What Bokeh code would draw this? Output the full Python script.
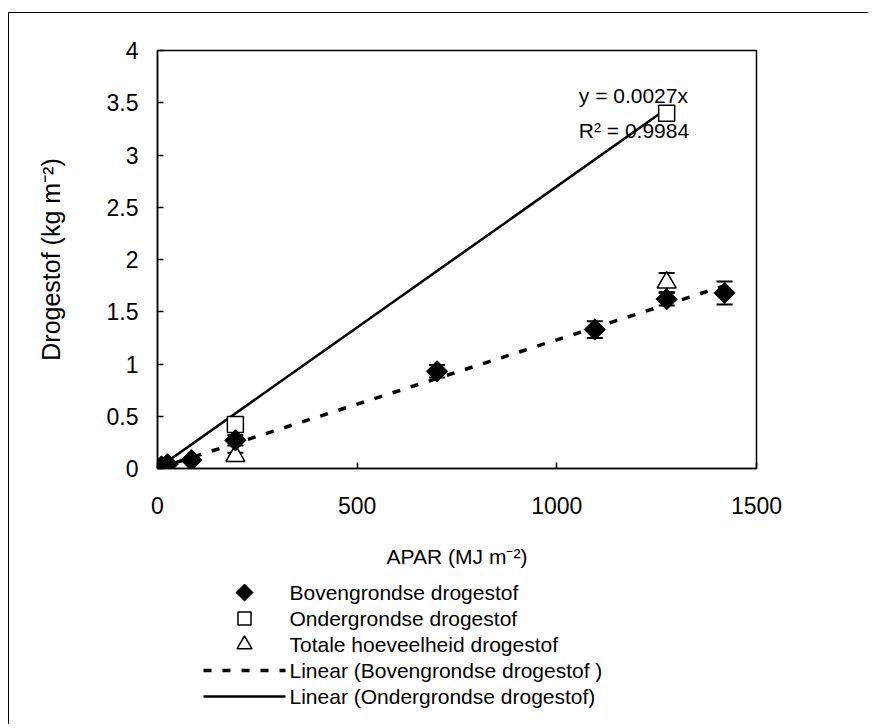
import numpy as np
from bokeh.plotting import figure
from bokeh.layouts import column
from bokeh.models import (ColumnDataSource, Whisker, TeeHead, Label,
                          FixedTicker, Range1d, FactorRange)
from bokeh.core.properties import value
from bokeh.embed import file_html
from bokeh.resources import INLINE

# ---- data ----
apar_boven = [0, 10, 25, 85, 195, 700, 1095, 1275, 1420]
ds_boven = [0.0, 0.02, 0.04, 0.08, 0.27, 0.93, 1.33, 1.62, 1.68]
err_boven = [0.0, 0.0, 0.0, 0.0, 0.05, 0.06, 0.08, 0.06, 0.11]

apar_onder = [0, 195, 1275]
ds_onder = [0.0, 0.42, 3.40]
err_onder = [0.0, 0.02, 0.03]

apar_totaal = [0, 195, 1275]
ds_totaal = [0.0, 0.12, 1.78]
err_totaal = [0.0, 0.03, 0.09]

slope_onder = 0.0027
r2_onder = 0.9984

x_ticks = [0, 500, 1000, 1500]
y_ticks = [0, 0.5, 1, 1.5, 2, 2.5, 3, 3.5, 4]
y_tick_labels = ["0", "0.5", "1", "1.5", "2", "2.5", "3", "3.5", "4"]

names = ["Bovengrondse drogestof", "Ondergrondse drogestof",
         "Totale hoeveelheid drogestof",
         "Linear (Bovengrondse drogestof )", "Linear (Ondergrondse drogestof)"]

FONT = "Liberation Sans"

# trend line for Bovengrondse: least squares through origin
xb = np.array(apar_boven, float)
yb = np.array(ds_boven, float)
slope_boven = float((xb * yb).sum() / (xb * xb).sum())
trend_b_x = [0, max(apar_boven)]
trend_b_y = [slope_boven * v for v in trend_b_x]
trend_o_x = [0, max(apar_onder)]
trend_o_y = [slope_onder * v for v in trend_o_x]

W, H1, H2 = 860, 565, 147
BL, BR = 148, 113
p = figure(width=W, height=H1, output_backend="svg", toolbar_location=None,
           x_range=Range1d(0, 1500), y_range=Range1d(0, 4),
           min_border_left=BL, min_border_right=BR,
           min_border_top=37, min_border_bottom=110)
p.grid.visible = False
p.outline_line_color = "black"
p.outline_line_width = 1.5
p.background_fill_color = "white"
p.border_fill_color = "white"
p.styles = {"border-top": "1px solid black", "border-left": "1px solid black",
            "margin-top": "12px", "margin-left": "8px"}

for ax in (p.xaxis[0], p.yaxis[0]):
    ax.axis_line_color = "black"
    ax.axis_line_width = 1.5
    ax.major_tick_in = 6
    ax.major_tick_out = 0
    ax.major_tick_line_width = 1.5
    ax.minor_tick_line_color = None
    ax.major_label_text_font = FONT
    ax.major_label_text_font_size = "23px"
    ax.major_label_text_color = "black"
    ax.axis_label_text_font = FONT
    ax.axis_label_text_font_style = "normal"
    ax.axis_label_text_color = "black"

p.xaxis.axis_label_text_font_size = "21px"
p.yaxis.axis_label_text_font_size = "25px"
p.xaxis.ticker = FixedTicker(ticks=x_ticks)
p.yaxis.ticker = FixedTicker(ticks=y_ticks)
p.yaxis.major_label_overrides = {t: l for t, l in zip(y_ticks, y_tick_labels)}
p.xaxis.axis_label = "APAR (MJ m\u207b\u00b2)"
p.yaxis.axis_label = "Drogestof (kg m\u207b\u00b2)"
p.xaxis.major_label_standoff = 28
p.xaxis.axis_label_standoff = 28
p.yaxis.major_label_standoff = 19
p.yaxis.axis_label_standoff = 39

def err_source(xs, ys, es):
    return ColumnDataSource(dict(x=xs, y=ys,
                                 lo=[a - e for a, e in zip(ys, es)],
                                 hi=[a + e for a, e in zip(ys, es)]))

src_b = err_source(apar_boven, ds_boven, err_boven)
src_o = err_source(apar_onder, ds_onder, err_onder)
src_t = err_source(apar_totaal, ds_totaal, err_totaal)

STY_T = dict(marker="triangle", fill_color="white",
             line_color="black", line_width=1.5)
STY_O = dict(marker="square", fill_color="white",
             line_color="black", line_width=1.5)
STY_B = dict(marker="square", angle=np.pi / 4,
             fill_color="black", line_color="black")
STY_LO = dict(line_color="black", line_width=2.5)
STY_LB = dict(line_color="black", line_width=3.5, line_dash="8 11")

p.line(trend_o_x, trend_o_y, **STY_LO)
p.line(trend_b_x, trend_b_y, **STY_LB)

for src in (src_b, src_o, src_t):
    w = Whisker(source=src, base="x", upper="hi", lower="lo",
                line_color="black", line_width=1.5,
                upper_head=TeeHead(size=16, line_color="black", line_width=2),
                lower_head=TeeHead(size=16, line_color="black", line_width=2))
    p.add_layout(w)

p.scatter("x", "y", source=src_t, size=19, **STY_T)
p.scatter("x", "y", source=src_o, size=16, **STY_O)
p.scatter("x", "y", source=src_b, size=15, **STY_B)

p.add_layout(Label(x=1055, y=3.57, text="y = %.4fx" % slope_onder,
                   text_font=FONT, text_font_size="21px",
                   text_baseline="middle", text_color="black"))
p.add_layout(Label(x=1055, y=3.23, text="R\u00b2 = %.4f" % r2_onder,
                   text_font=FONT, text_font_size="21px",
                   text_baseline="middle", text_color="black"))

# ---- legend panel underneath: one row per series name ----
q = figure(width=W, height=H2, output_backend="svg", toolbar_location=None,
           x_range=Range1d(0, W - BL - BR), y_range=FactorRange(*reversed(names)),
           x_axis_type=None, y_axis_type=None,
           min_border_left=BL, min_border_right=BR,
           min_border_top=2, min_border_bottom=15)
q.grid.visible = False
q.outline_line_color = None
q.background_fill_color = "white"
q.border_fill_color = "white"
q.styles = {"border-left": "1px solid black", "margin-left": "8px"}

GX0, GX1 = 46, 128          # legend glyph column (screen px inside the frame)
GXC = (GX0 + GX1) / 2
q.scatter(x=[GXC], y=[names[0]], size=12, **STY_B)
q.scatter(x=[GXC], y=[names[1]], size=13, **STY_O)
q.scatter(x=[GXC], y=[names[2]], size=15, **STY_T)
q.segment(x0=[GX0], x1=[GX1], y0=[names[3]], y1=[names[3]], **STY_LB)
q.segment(x0=[GX0], x1=[GX1], y0=[names[4]], y1=[names[4]], **STY_LO)
q.text(x=[GX1 + 4] * len(names), y=names, text=names,
       text_font=value(FONT), text_font_size="21px",
       text_baseline="middle", text_align="left", text_color="black")

layout = column(p, q, spacing=0)
open("out.html", "w").write(file_html(layout, INLINE))
